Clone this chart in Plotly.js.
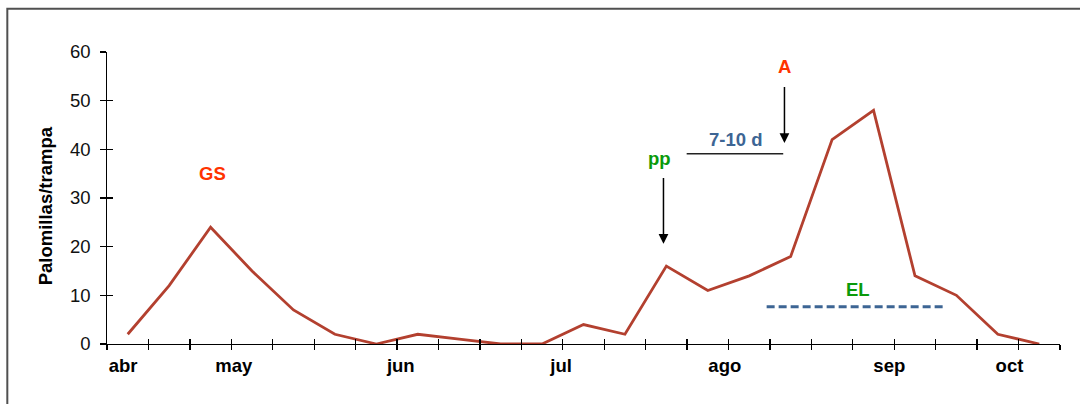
<!DOCTYPE html>
<html>
<head>
<meta charset="utf-8">
<script src="https://cdn.plot.ly/plotly-3.0.1.min.js"></script>
<style>
  html, body { margin: 0; padding: 0; background: #fff; }
  #chart { width: 1080px; height: 404px; }
</style>
</head>
<body>
<div id="chart"></div>
<script>
// ---- data ----
const sampleIndex = [0,1,2,3,4,5,6,7,8,9,10,11,12,13,14,15,16,17,18,19,20,21,22];
const mothsPerTrap = [2,12,24,15,7,2,0,2,1,0,0,4,2,16,11,14,18,42,48,14,10,2,0];
const monthLabels = ['abr','may','jun','jul','ago','sep','oct'];
const monthPositions = [-0.11, 2.56, 6.59, 10.46, 14.41, 18.38, 21.28];
const yTicks = [0,10,20,30,40,50,60];
const yTitle = 'Palomillas/trampa';

// event markers
const eventLabels = ['GS','pp','7-10 d','A','EL'];
const eventX = [2.05, 12.83, 14.66, 15.86, 17.62];
const eventY = [35, 38.2, 42.1, 57.0, 11.2];
const eventColors = ['#FF3300','#0A9A0A','#3D6594','#FF3300','#0A9A0A'];

// arrows: [x, tipY, tailY]
const arrowPP = [12.93, 20.6, 34.4];
const arrowA = [15.85, 41.3, 53.1];
// interval line 7-10 d: [x0, x1, y]
const intervalLine = [13.49, 15.82, 39.1];
// economic level (EL) threshold: [x0, x1, y]
const elLine = [15.42, 19.73, 7.66];

// boundaries between samples (category tick marks)
const boundaries = sampleIndex.map(i => i - 0.5).concat([sampleIndex.length - 0.5]);

const FONT = 'Liberation Sans, Arial, sans-serif';

const ghost = (xa, ya) => ({
  x: sampleIndex, y: mothsPerTrap, xaxis: xa, yaxis: ya, type: 'scatter', mode: 'lines',
  line: { width: 0, color: 'rgba(0,0,0,0)' }, hoverinfo: 'skip', showlegend: false
});

const traces = [
  ghost('x2', 'y2'),
  ghost('x3', 'y'),
  {
    x: sampleIndex, y: mothsPerTrap, type: 'scatter', mode: 'lines',
    line: { color: '#B3402F', width: 2.8 }, hoverinfo: 'x+y', showlegend: false
  }
];

const xRange = [-0.5, 22.5];
const yRange = [0, 60];

const annotations = eventLabels.map((t, i) => ({
  x: eventX[i], y: eventY[i], xref: 'x', yref: 'y', text: '<b>' + t + '</b>',
  showarrow: false, font: { family: FONT, size: 18.5, color: eventColors[i] },
  xanchor: 'center', yanchor: 'middle'
}));
[arrowPP, arrowA].forEach(a => {
  annotations.push({
    x: a[0], y: a[1], ax: a[0], ay: a[2], xref: 'x', yref: 'y', axref: 'x', ayref: 'y',
    text: '', showarrow: true, arrowhead: 2, arrowsize: 1.3, arrowwidth: 1.5, arrowcolor: '#000'
  });
});
annotations.push({
  xref: 'paper', yref: 'paper', x: -0.0649, y: 0.472, text: '<b>' + yTitle + '</b>',
  textangle: -90, showarrow: false, font: { family: FONT, size: 18.5, color: '#000' },
  xanchor: 'center', yanchor: 'middle'
});

const shapes = [
  { type: 'line', xref: 'x', yref: 'y', x0: intervalLine[0], x1: intervalLine[1], y0: intervalLine[2], y1: intervalLine[2],
    line: { color: '#222', width: 1.5 } },
  { type: 'line', xref: 'x', yref: 'y', x0: elLine[0], x1: elLine[1], y0: elLine[2], y1: elLine[2],
    line: { color: '#3D6594', width: 3, dash: '8px,4px' } },
  // outer frame
  { type: 'rect', xref: 'paper', yref: 'paper', x0: -0.1046, x1: 1.03, y0: -0.25, y1: 1.1483,
    line: { color: '#505050', width: 2 }, fillcolor: 'rgba(0,0,0,0)', layer: 'below' }
];

const layout = {
  width: 1080, height: 404,
  margin: { l: 107, r: 20, t: 52, b: 60 },
  paper_bgcolor: '#fff', plot_bgcolor: '#fff',
  font: { family: FONT, color: '#000' },
  showlegend: false,
  xaxis: {
    range: xRange, tickmode: 'array', tickvals: boundaries, showticklabels: false,
    ticks: 'outside', ticklen: 5, tickwidth: 1.3, tickcolor: '#000',
    showline: true, linecolor: '#000', linewidth: 1.3, showgrid: false, zeroline: false, fixedrange: true
  },
  xaxis2: {
    overlaying: 'x', anchor: 'y', side: 'bottom', range: xRange, tickmode: 'array', tickvals: boundaries,
    showticklabels: false, ticks: 'inside', ticklen: 5, tickwidth: 1.3, tickcolor: '#000',
    showline: false, showgrid: false, zeroline: false
  },
  xaxis3: {
    overlaying: 'x', anchor: 'y', side: 'bottom', range: xRange, tickmode: 'array',
    tickvals: monthPositions, ticktext: monthLabels.map(m => '<b>' + m + '</b>'),
    ticks: '', showline: false, showgrid: false, zeroline: false, ticklabelstandoff: 8,
    tickfont: { family: FONT, size: 18.5, color: '#000' }
  },
  yaxis: {
    range: yRange, tickmode: 'array', tickvals: yTicks,
    ticks: 'outside', ticklen: 5.5, tickwidth: 1.3, tickcolor: '#000',
    showline: true, linecolor: '#000', linewidth: 1.3, showgrid: false, zeroline: false,
    tickfont: { family: FONT, size: 18.5, color: '#111' }, ticklabelstandoff: 6
  },
  yaxis2: {
    overlaying: 'y', anchor: 'x', side: 'left', range: yRange, tickmode: 'array', tickvals: yTicks,
    showticklabels: false, ticks: 'inside', ticklen: 5.5, tickwidth: 1.3, tickcolor: '#000',
    showline: false, showgrid: false, zeroline: false
  },
  annotations: annotations,
  shapes: shapes
};

Plotly.newPlot('chart', traces, layout, { displayModeBar: false, staticPlot: true });
</script>
</body>
</html>
